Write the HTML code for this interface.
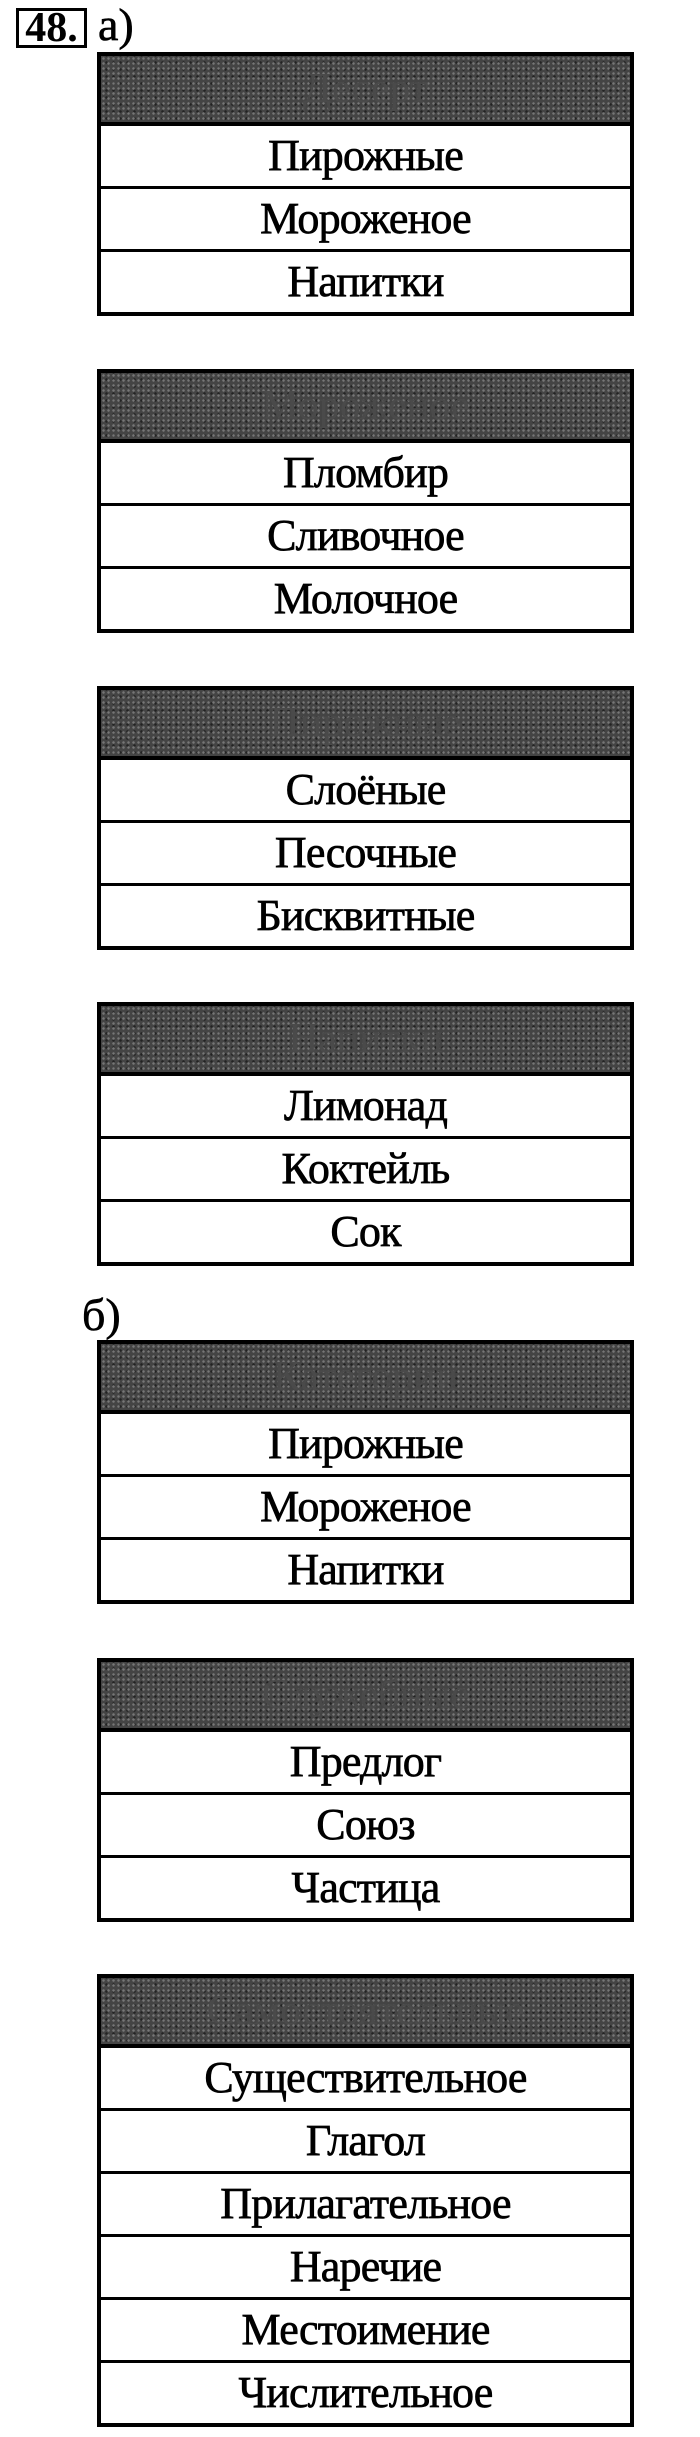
<!DOCTYPE html>
<html><head><meta charset="utf-8"><style>
html,body{margin:0;padding:0;background:#fff;}
body{width:700px;height:2437px;position:relative;overflow:hidden;font-family:"Liberation Serif","Noto Serif CJK SC",serif;color:#000;}
.t{position:absolute;left:97px;width:529px;border:4px solid #000;background:#fff;}
.h{height:66px;background:#444;background-image:radial-gradient(#777 1px,transparent 1.5px),radial-gradient(#222 1px,transparent 1.5px);background-size:5px 5px,7px 7px;background-position:0 0,2px 3px;border-bottom:4px solid #000;text-align:center;line-height:66px;font-size:42px;color:#4a4a4a;}
.r{height:60px;border-bottom:3px solid #000;text-align:center;line-height:60px;font-size:44px;letter-spacing:-0.8px;-webkit-text-stroke:0.7px #000;}
.r:last-child{border-bottom:none;}
.lbl{position:absolute;font-size:46px;-webkit-text-stroke:0.6px #000;}
</style></head><body>
<div style="position:absolute;left:16px;top:8px;width:65px;height:34px;border:3px solid #000;font-size:42px;line-height:34px;text-align:center;font-weight:bold;">48.</div>
<div class="lbl" style="left:98px;top:-2px;">а)</div>

<div class="t" style="top:52px;"><div class="h">Десерт</div><div class="r">Пирожные</div><div class="r">Мороженое</div><div class="r">Напитки</div></div>
<div class="t" style="top:369px;"><div class="h">Мороженое</div><div class="r">Пломбир</div><div class="r">Сливочное</div><div class="r">Молочное</div></div>
<div class="t" style="top:686px;"><div class="h">Пирожные</div><div class="r">Слоёные</div><div class="r">Песочные</div><div class="r">Бисквитные</div></div>
<div class="t" style="top:1002px;"><div class="h">Напитки</div><div class="r">Лимонад</div><div class="r">Коктейль</div><div class="r">Сок</div></div>

<div class="lbl" style="left:82px;top:1288px;">б)</div>
<div class="t" style="top:1340px;"><div class="h">Категории</div><div class="r">Пирожные</div><div class="r">Мороженое</div><div class="r">Напитки</div></div>
<div class="t" style="top:1658px;"><div class="h">Служебные</div><div class="r">Предлог</div><div class="r">Союз</div><div class="r">Частица</div></div>
<div class="t" style="top:1974px;"><div class="h">Самостоятельные</div><div class="r">Существительное</div><div class="r">Глагол</div><div class="r">Прилагательное</div><div class="r">Наречие</div><div class="r">Местоимение</div><div class="r">Числительное</div></div>
</body></html>
